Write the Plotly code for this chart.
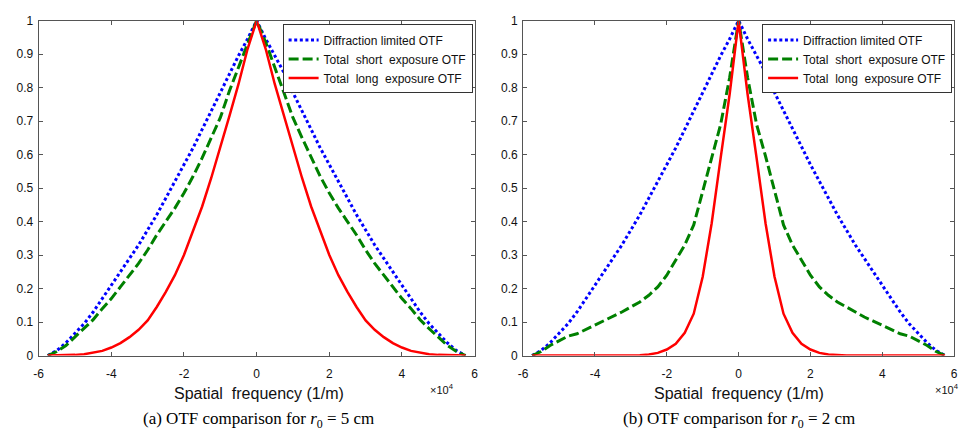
import plotly.graph_objects as go

# Spatial frequency (x 10^4 1/m)
freq = [-5.75, -5.5, -5.25, -5.0, -4.75, -4.5, -4.25, -4.0, -3.75, -3.5, -3.25, -3.0,
        -2.75, -2.5, -2.25, -2.0, -1.75, -1.5, -1.25, -1.0, -0.75, -0.5, -0.25, 0.0,
        0.25, 0.5, 0.75, 1.0, 1.25, 1.5, 1.75, 2.0, 2.25, 2.5, 2.75, 3.0, 3.25, 3.5,
        3.75, 4.0, 4.25, 4.5, 4.75, 5.0, 5.25, 5.5, 5.75]

# Diffraction limited OTF (same in both panels)
diffraction = [0.0, 0.015, 0.038, 0.065, 0.095, 0.13, 0.17, 0.21, 0.25, 0.29, 0.33, 0.375,
               0.42, 0.47, 0.52, 0.57, 0.62, 0.675, 0.73, 0.785, 0.845, 0.895, 0.945, 1.0,
               0.945, 0.895, 0.845, 0.785, 0.73, 0.675, 0.62, 0.57, 0.52, 0.47, 0.42, 0.375,
               0.33, 0.29, 0.25, 0.21, 0.17, 0.13, 0.095, 0.065, 0.038, 0.015, 0.0]

# (a) r0 = 5 cm
short_a = [0.0, 0.012, 0.03, 0.055, 0.08, 0.107, 0.14, 0.17, 0.205, 0.24, 0.275, 0.315,
           0.36, 0.40, 0.44, 0.485, 0.535, 0.59, 0.65, 0.71, 0.79, 0.86, 0.935, 1.0,
           0.935, 0.86, 0.79, 0.71, 0.65, 0.59, 0.535, 0.485, 0.44, 0.40, 0.36, 0.315,
           0.275, 0.24, 0.205, 0.17, 0.14, 0.107, 0.08, 0.055, 0.03, 0.012, 0.0]
long_a = [0.0, 0.0, 0.001, 0.002, 0.004, 0.008, 0.014, 0.024, 0.037, 0.055, 0.077, 0.105,
          0.145, 0.19, 0.24, 0.30, 0.37, 0.445, 0.53, 0.62, 0.715, 0.81, 0.915, 1.0,
          0.915, 0.81, 0.715, 0.62, 0.53, 0.445, 0.37, 0.30, 0.24, 0.19, 0.145, 0.105,
          0.077, 0.055, 0.037, 0.024, 0.014, 0.008, 0.004, 0.002, 0.001, 0.0, 0.0]

# (b) r0 = 2 cm
short_b = [0.0, 0.012, 0.03, 0.045, 0.058, 0.065, 0.078, 0.09, 0.103, 0.115, 0.13, 0.145,
           0.16, 0.18, 0.205, 0.24, 0.285, 0.33, 0.39, 0.49, 0.595, 0.69, 0.83, 1.0,
           0.83, 0.69, 0.595, 0.49, 0.39, 0.33, 0.285, 0.24, 0.205, 0.18, 0.16, 0.145,
           0.13, 0.115, 0.103, 0.09, 0.078, 0.065, 0.058, 0.045, 0.03, 0.012, 0.0]
long_b = [0.0, 0.0, 0.0, 0.0, 0.0, 0.0, 0.0, 0.0, 0.0, 0.0, 0.0, 0.0,
          0.001, 0.003, 0.008, 0.018, 0.035, 0.068, 0.125, 0.235, 0.395, 0.59, 0.78, 1.0,
          0.78, 0.59, 0.395, 0.235, 0.125, 0.068, 0.035, 0.018, 0.008, 0.003, 0.001, 0.0,
          0.0, 0.0, 0.0, 0.0, 0.0, 0.0, 0.0, 0.0, 0.0, 0.0, 0.0]

names = ["Diffraction limited OTF", "Total  short  exposure OTF", "Total  long  exposure OTF"]
x_ticks = [-6, -4, -2, 0, 2, 4, 6]
x_tick_text = ["-6", "-4", "-2", "0", "2", "4", "6"]
y_ticks = [0, 0.1, 0.2, 0.3, 0.4, 0.5, 0.6, 0.7, 0.8, 0.9, 1]
y_tick_text = ["0", "0.1", "0.2", "0.3", "0.4", "0.5", "0.6", "0.7", "0.8", "0.9", "1"]

W, H = 968, 440
SANS = "Liberation Sans, Arial"
styles = [dict(color="#0000FF", width=3, dash="3px,2.6px"),
          dict(color="#008000", width=3, dash="10px,4px"),
          dict(color="#FF0000", width=2.5, dash="solid")]

fig = go.Figure()
panels = [("x", "y", "legend", [diffraction, short_a, long_a]),
          ("x2", "y2", "legend2", [diffraction, short_b, long_b])]
for xa, ya, lg, series in panels:
    for nm, vals, st in zip(names, series, styles):
        fig.add_trace(go.Scatter(x=freq, y=vals, mode="lines", name=nm, line=st,
                                 xaxis=xa, yaxis=ya, legend=lg, hoverinfo="skip"))


def px_x(p):
    return p / W


def px_y(p):
    return 1 - p / H


tick_font = dict(family=SANS, size=12, color="#111")
axis_common = dict(showline=True, linecolor="#555", linewidth=1, mirror="ticks",
                   ticks="inside", ticklen=4, tickcolor="#555", showgrid=False,
                   zeroline=False, tickfont=tick_font)

left_dom = [px_x(34), px_x(474)]
right_dom = [px_x(523), px_x(958)]
y_dom = [px_y(360), px_y(14)]

legend_style = dict(xanchor="right", yanchor="top", bgcolor="white", bordercolor="#333",
                    borderwidth=1, font=dict(family=SANS, size=12, color="#111"),
                    tracegroupgap=0)

fig.update_layout(
    width=W, height=H, margin=dict(l=0, r=0, t=0, b=0),
    paper_bgcolor="white", plot_bgcolor="white",
    xaxis=dict(domain=left_dom, range=[-6, 6], tickvals=x_ticks, ticktext=x_tick_text,
               anchor="y", ticklabelstandoff=7, **axis_common),
    yaxis=dict(domain=y_dom, range=[0, 1], tickvals=y_ticks, ticktext=y_tick_text,
               anchor="x", ticklabelstandoff=2, **axis_common),
    xaxis2=dict(domain=right_dom, range=[-6, 6], tickvals=x_ticks, ticktext=x_tick_text,
                anchor="y2", ticklabelstandoff=7, **axis_common),
    yaxis2=dict(domain=y_dom, range=[0, 1], tickvals=y_ticks, ticktext=y_tick_text,
                anchor="x2", ticklabelstandoff=2, **axis_common),
    legend=dict(x=px_x(472), y=px_y(18), **legend_style),
    legend2=dict(x=px_x(956), y=px_y(18), **legend_style),
)

annos = []
for cx, exp_x, cap in [(256, 441, "(a) OTF comparison for <i>r</i><sub>0</sub> = 5 cm"),
                       (741, 951, "(b) OTF comparison for <i>r</i><sub>0</sub> = 2 cm")]:
    annos.append(dict(x=px_x(cx), y=px_y(399), xref="paper", yref="paper",
                      xanchor="center", yanchor="middle",
                      text="Spatial  frequency (1/m)", showarrow=False,
                      font=dict(family=SANS, size=16, color="#111")))
    annos.append(dict(x=px_x(exp_x), y=px_y(395), xref="paper", yref="paper",
                      xanchor="center", yanchor="middle",
                      text="×10<sup>4</sup>", showarrow=False,
                      font=dict(family=SANS, size=11, color="#111")))
    annos.append(dict(x=px_x(cx), y=px_y(427), xref="paper", yref="paper",
                      xanchor="center", yanchor="middle",
                      text=cap, showarrow=False,
                      font=dict(family="Liberation Serif, Times New Roman", size=17, color="#000")))
fig.update_layout(annotations=annos)

fig.write_html("out.html")
